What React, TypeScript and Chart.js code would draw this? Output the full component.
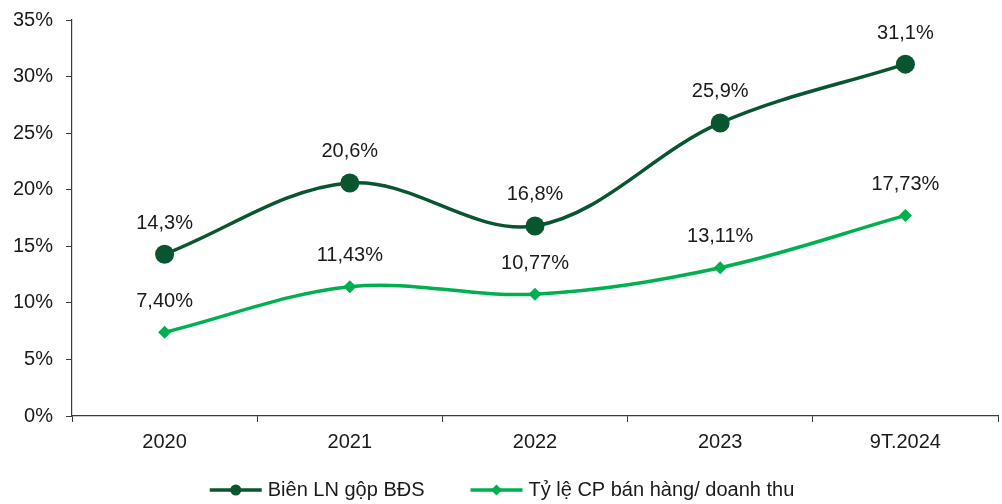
import React, { useEffect, useRef } from "react";
import { Chart, registerables } from "chart.js";

Chart.register(...registerables);

const categories = ["2020", "2021", "2022", "2023", "9T.2024"];
const grossMargin = [14.3, 20.6, 16.8, 25.9, 31.1];
const sellingCostRatio = [7.4, 11.43, 10.77, 13.11, 17.73];
const seriesNames = ["Biên LN gộp BĐS", "Tỷ lệ CP bán hàng/ doanh thu"];
const seriesDecimals = [1, 2];
const yMin = 0;
const yMax = 35;
const yStep = 5;

const DARK = "#08552F";
const LIGHT = "#00B050";
const TEXT = "#1a1a1a";
const AXIS = "#3a3a3a";
const FONT = "'Liberation Sans', Arial, sans-serif";

const fmt = (v: number, d: number) => v.toFixed(d).replace(".", ",") + "%";

const dataLabelPlugin = {
  id: "dataLabels",
  afterDatasetsDraw(chart: any) {
    const ctx = chart.ctx;
    ctx.save();
    ctx.font = `20px ${FONT}`;
    ctx.fillStyle = TEXT;
    ctx.textAlign = "center";
    ctx.textBaseline = "middle";
    chart.data.datasets.forEach((ds: any, i: number) => {
      const meta = chart.getDatasetMeta(i);
      meta.data.forEach((el: any, j: number) => {
        ctx.fillText(fmt(ds.data[j], seriesDecimals[i]), el.x, el.y - 31);
      });
    });
    ctx.restore();
  },
};

const legendPlugin = {
  id: "customLegend",
  afterDraw(chart: any) {
    const ctx = chart.ctx;
    ctx.save();
    ctx.font = `20px ${FONT}`;
    ctx.textBaseline = "middle";
    const iconW = 52;
    const gap = 6;
    const itemGap = 46;
    const items = chart.data.datasets.map((ds: any) => ({
      ds,
      w: iconW + gap + ctx.measureText(ds.label).width,
    }));
    const total = items.reduce((s: number, it: any) => s + it.w, 0) + itemGap * (items.length - 1);
    let x = chart.width / 2 + 1 - total / 2;
    const y = 490;
    items.forEach((it: any) => {
      const ds = it.ds;
      ctx.strokeStyle = ds.borderColor;
      ctx.lineWidth = 3.5;
      ctx.beginPath();
      ctx.moveTo(x, y);
      ctx.lineTo(x + iconW, y);
      ctx.stroke();
      ctx.fillStyle = ds.pointBackgroundColor;
      const cx = x + iconW / 2;
      ctx.beginPath();
      if (ds.pointStyle === "rectRot") {
        const r = 5.5;
        ctx.moveTo(cx, y - r);
        ctx.lineTo(cx + r, y);
        ctx.lineTo(cx, y + r);
        ctx.lineTo(cx - r, y);
        ctx.closePath();
      } else {
        ctx.arc(cx, y, 5.5, 0, Math.PI * 2);
      }
      ctx.fill();
      ctx.fillStyle = TEXT;
      ctx.textAlign = "left";
      ctx.fillText(ds.label, x + iconW + gap, y);
      x += it.w + itemGap;
    });
    ctx.restore();
  },
};

export default function App() {
  const ref = useRef<HTMLCanvasElement | null>(null);

  useEffect(() => {
    if (!ref.current) return;
    const chart = new Chart(ref.current, {
      type: "line",
      data: {
        labels: categories,
        datasets: [
          {
            label: seriesNames[0],
            data: grossMargin,
            borderColor: DARK,
            backgroundColor: DARK,
            pointBackgroundColor: DARK,
            pointBorderColor: DARK,
            pointStyle: "circle",
            pointRadius: 9.5,
            pointBorderWidth: 0,
            borderWidth: 3.5,
            tension: 0.35,
            clip: false,
          },
          {
            label: seriesNames[1],
            data: sellingCostRatio,
            borderColor: LIGHT,
            backgroundColor: LIGHT,
            pointBackgroundColor: LIGHT,
            pointBorderColor: LIGHT,
            pointStyle: "rectRot",
            pointRadius: 6.5,
            pointBorderWidth: 0,
            borderWidth: 3.5,
            tension: 0.35,
            clip: false,
          },
        ],
      },
      options: {
        animation: false,
        responsive: true,
        maintainAspectRatio: false,
        layout: { autoPadding: false, padding: { top: 20, right: 4, bottom: 48, left: 0 } },
        plugins: {
          legend: { display: false },
          tooltip: { enabled: false },
        },
        scales: {
          x: {
            offset: true,
            grid: {
              offset: true,
              drawOnChartArea: false,
              drawTicks: true,
              tickLength: 6,
              color: AXIS,
              lineWidth: 1,
            },
            border: { color: AXIS, width: 1.2 },
            ticks: {
              color: TEXT,
              font: { family: FONT, size: 20 },
              padding: 8,
              maxRotation: 0,
            },
            afterFit(scale: any) {
              scale.height = 40;
            },
          },
          y: {
            min: yMin,
            max: yMax,
            grid: {
              drawOnChartArea: false,
              drawTicks: true,
              tickLength: 6,
              color: AXIS,
              lineWidth: 1,
            },
            border: { color: AXIS, width: 1.2 },
            ticks: {
              stepSize: yStep,
              color: TEXT,
              font: { family: FONT, size: 20 },
              padding: 13,
              callback: (v: any) => v + "%",
            },
            afterFit(scale: any) {
              scale.width = 72;
              scale.paddingTop = 10;
              scale.paddingBottom = 10;
            },
          },
        },
      },
      plugins: [dataLabelPlugin, legendPlugin],
    });
    return () => chart.destroy();
  }, []);

  return (
    <div style={{ position: "fixed", left: 0, top: 0, width: 1002, height: 504, background: "#fff" }}>
      <canvas ref={ref} />
    </div>
  );
}
